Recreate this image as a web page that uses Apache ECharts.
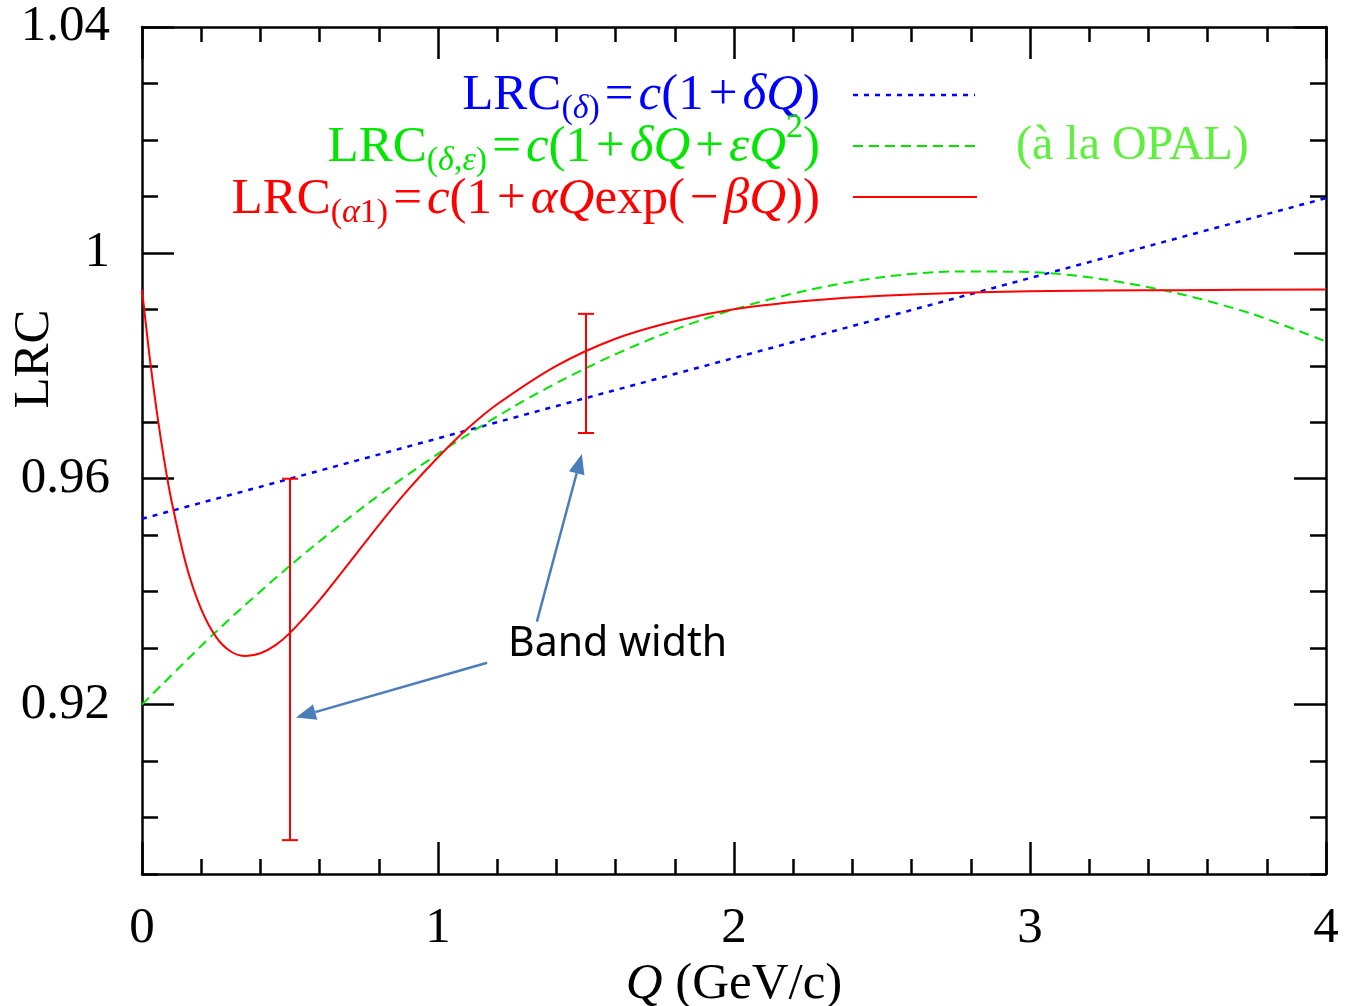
<!DOCTYPE html>
<html><head><meta charset="utf-8">
<script src="https://cdn.jsdelivr.net/npm/echarts@6/dist/echarts.min.js"></script>
<style>html,body{margin:0;padding:0;background:#fff}#c{width:1345px;height:1006px}</style>
</head><body><div id="c"></div>
<script>
// ---------- data ----------
const xMajorTicks = [0, 1, 2, 3, 4];
const yMajorTicks = [0.92, 0.96, 1.00, 1.04];

const blueQ   = [0, 0.5, 1.5, 4];
const blueLRC = [0.9529, 0.9600, 0.9743, 1.0097];

const greenQ   = [0, 0.25, 0.5, 0.75, 1.0, 1.25, 1.5, 1.75, 2.0, 2.25, 2.5, 2.75, 3.0, 3.25, 3.5, 3.75, 4.0];
const greenLRC = [0.9200, 0.9329, 0.9446, 0.9551, 0.9644, 0.9726, 0.9796, 0.9854, 0.9900, 0.9934, 0.9957, 0.9967, 0.9966, 0.9953, 0.9928, 0.9892, 0.9843];

const redQ   = [0, 0.025, 0.05, 0.075, 0.1, 0.15, 0.2, 0.25, 0.3, 0.35, 0.4, 0.45, 0.5, 0.6, 0.7, 0.8, 0.9, 1.0, 1.1, 1.2, 1.4, 1.6, 1.8, 2.0, 2.25, 2.5, 3.0, 3.5, 4.0];
const redLRC = [0.9935, 0.9819, 0.9719, 0.9633, 0.9560, 0.9446, 0.9369, 0.9320, 0.9294, 0.9286, 0.9291, 0.9305, 0.9327, 0.9385, 0.9451, 0.9518, 0.9581, 0.9638, 0.9689, 0.9732, 0.9800, 0.9848, 0.9879, 0.9900, 0.9915, 0.9924, 0.9932, 0.9934, 0.9935];

const errQ    = [0.5, 1.5];
const errLow  = [0.8960, 0.9681];
const errHigh = [0.9600, 0.9892];

// annotation arrows (data units): from -> to
const arrowFromQ = [1.334, 1.166];
const arrowFromY = [0.9347, 0.9274];
const arrowToQ   = [1.486, 0.520];
const arrowToY   = [0.9644, 0.9177];

// ---------- styles ----------
const SERIF = 'Liberation Serif';
const FS = 51;
const BLUE = '#0000ff', GREEN = '#00e600', RED = '#ff0000', ARROW = '#4a7ebb', OPAL = '#5fef3e';

function makeRich(col) {
  const base = {fontFamily: SERIF, fill: col, color: col};
  return {
    n:  Object.assign({}, base, {fontSize: FS, lineHeight: 62}),
    o:  Object.assign({}, base, {fontSize: FS, lineHeight: 62, padding: [0, 5, 0, 5]}),
    i:  Object.assign({}, base, {fontSize: FS, fontStyle: 'italic', lineHeight: 62}),
    s:  Object.assign({}, base, {fontSize: 34, lineHeight: 32, padding: [27, 0, 0, 0]}),
    si: Object.assign({}, base, {fontSize: 34, fontStyle: 'italic', lineHeight: 32, padding: [27, 0, 0, 0]}),
    p:  Object.assign({}, base, {fontSize: 34, lineHeight: 20, padding: [0, 0, 40, 0]})
  };
}

const tickStyle = {color: '#000', width: 2.5};
const isMultiple = (v, step) => Math.abs(v / step - Math.round(v / step)) < 1e-6;

function xTicks(pos, major, showLabel) {
  return {
    type: 'value', min: 0, max: 4, position: pos, gridIndex: 0,
    interval: major ? 1 : 0.2,
    axisLine: {show: !major, onZero: false, lineStyle: {color: '#000', width: 2.5}},
    axisTick: {show: true, inside: true, length: major ? 32 : 15, lineStyle: tickStyle},
    axisLabel: {show: showLabel, margin: 29, fontFamily: SERIF, fontSize: FS, color: '#000',
      formatter: v => (xMajorTicks.some(t => Math.abs(t - v) < 1e-6) ? String(Math.round(v)) : '')},
    splitLine: {show: false}
  };
}
function yTicks(pos, major, showLabel) {
  const a = {
    type: 'value', min: 0.89, max: 1.04, position: pos, gridIndex: 0,
    axisLine: {show: !major, onZero: false, lineStyle: {color: '#000', width: 2.5}},
    axisTick: {show: true, inside: true, length: major ? 32 : 16, lineStyle: tickStyle},
    axisLabel: {show: showLabel, margin: 32, fontFamily: SERIF, fontSize: FS, color: '#000',
      formatter: v => {
        if (!yMajorTicks.some(t => Math.abs(t - v) < 1e-6)) return '';
        return Math.abs(v - 1) < 1e-6 ? '1' : v.toFixed(2);
      }},
    splitLine: {show: false}
  };
  if (major) a.axisTick.customValues = yMajorTicks; else a.interval = 0.01;
  return a;
}

const chart = echarts.init(document.getElementById('c'), null, {renderer: 'canvas'});
const option = {
  animation: false,
  backgroundColor: '#fff',
  grid: {left: 142, right: 19, top: 27, bottom: 132, containLabel: false, outerBoundsMode: 'none'},
  xAxis: [
    Object.assign(xTicks('bottom', false, true), {
      name: '{i|Q} (GeV/c)', nameLocation: 'middle', nameGap: 78,
      nameTextStyle: {fontFamily: SERIF, fontSize: FS, color: '#000', lineHeight: 50,
        rich: {i: {fontFamily: SERIF, fontSize: FS, fontStyle: 'italic', color: '#000', lineHeight: 50}}}
    }),
    xTicks('bottom', true, false),
    xTicks('top', false, false),
    xTicks('top', true, false)
  ],
  yAxis: [
    yTicks('left', false, true),
    yTicks('left', true, false),
    yTicks('right', false, false),
    yTicks('right', true, false)
  ],
  series: [
    {name: 'delta', type: 'line', xAxisIndex: 0, yAxisIndex: 0, showSymbol: false, symbol: 'none',
     data: blueQ.map((q, k) => [q, blueLRC[k]]),
     lineStyle: {color: BLUE, width: 2.5, type: [5, 6]}, z: 3},
    {name: 'delta-eps', type: 'line', xAxisIndex: 0, yAxisIndex: 0, showSymbol: false, symbol: 'none', smooth: 0.3,
     data: greenQ.map((q, k) => [q, greenLRC[k]]),
     lineStyle: {color: GREEN, width: 2, type: [10, 6]}, z: 3},
    {name: 'alpha1', type: 'line', xAxisIndex: 0, yAxisIndex: 0, showSymbol: false, symbol: 'none', smooth: 0.3,
     data: redQ.map((q, k) => [q, redLRC[k]]),
     lineStyle: {color: RED, width: 2}, z: 4},
    {name: 'band', type: 'custom', xAxisIndex: 0, yAxisIndex: 0, z: 5,
     data: errQ.map((q, k) => [q, errLow[k], errHigh[k]]),
     encode: {x: 0, y: [1, 2]},
     renderItem: function (params, api) {
       const lo = api.coord([api.value(0), api.value(1)]);
       const hi = api.coord([api.value(0), api.value(2)]);
       const w = 8, st = {stroke: RED, lineWidth: 2};
       return {type: 'group', children: [
         {type: 'line', shape: {x1: lo[0], y1: lo[1], x2: hi[0], y2: hi[1]}, style: st},
         {type: 'line', shape: {x1: lo[0] - w, y1: lo[1], x2: lo[0] + w, y2: lo[1]}, style: st},
         {type: 'line', shape: {x1: hi[0] - w, y1: hi[1], x2: hi[0] + w, y2: hi[1]}, style: st}
       ]};
     }},
    {name: 'arrows', type: 'custom', xAxisIndex: 0, yAxisIndex: 0, z: 6,
     data: arrowFromQ.map((q, k) => [q, arrowFromY[k], arrowToQ[k], arrowToY[k]]),
     encode: {x: [0, 2], y: [1, 3]},
     renderItem: function (params, api) {
       const a = api.coord([api.value(0), api.value(1)]);
       const b = api.coord([api.value(2), api.value(3)]);
       const dx = b[0] - a[0], dy = b[1] - a[1], L = Math.sqrt(dx * dx + dy * dy);
       const ux = dx / L, uy = dy / L, hl = 20, hw = 8;
       const bx = b[0] - ux * hl, by = b[1] - uy * hl;
       return {type: 'group', children: [
         {type: 'line', shape: {x1: a[0], y1: a[1], x2: bx, y2: by}, style: {stroke: ARROW, lineWidth: 2.5}},
         {type: 'polygon', shape: {points: [[b[0], b[1]], [bx - uy * hw, by + ux * hw], [bx + uy * hw, by - ux * hw]]},
          style: {fill: ARROW}}
       ]};
     }}
  ],
  graphic: [
    {type: 'text', x: 35, y: 359, rotation: Math.PI / 2,
     style: {text: 'LRC', fontFamily: SERIF, fontSize: FS, fill: '#000', align: 'center', verticalAlign: 'middle'}},
    {type: 'text', x: 820, y: 96,
     style: {text: '{n|LRC}{s|(}{si|δ}{s|)}{o|=}{i|c}{n|(1}{o|+}{i|δQ}{n|)}', rich: makeRich(BLUE), fill: BLUE,
       align: 'right', verticalAlign: 'middle'}},
    {type: 'text', x: 820, y: 148,
     style: {text: '{n|LRC}{s|(}{si|δ}{s|,}{si|ε}{s|)}{o|=}{i|c}{n|(1}{o|+}{i|δQ}{o|+}{i|εQ}{p|2}{n|)}', rich: makeRich(GREEN), fill: GREEN,
       align: 'right', verticalAlign: 'middle'}},
    {type: 'text', x: 820, y: 200,
     style: {text: '{n|LRC}{s|(}{si|α}{s|1)}{o|=}{i|c}{n|(1}{o|+}{i|αQ}{n|exp(}{o|−}{i|βQ}{n|))}', rich: makeRich(RED), fill: RED,
       align: 'right', verticalAlign: 'middle'}},
    {type: 'line', shape: {x1: 853, y1: 95, x2: 975, y2: 95}, style: {stroke: BLUE, lineWidth: 2.5, lineDash: [5, 6]}},
    {type: 'line', shape: {x1: 853, y1: 146, x2: 977, y2: 146}, style: {stroke: GREEN, lineWidth: 2, lineDash: [10, 6]}},
    {type: 'line', shape: {x1: 853, y1: 197, x2: 977, y2: 197}, style: {stroke: RED, lineWidth: 2}},
    {type: 'text', x: 1016, y: 146,
     style: {text: '(à la OPAL)', fontFamily: SERIF, fontSize: 48, fill: OPAL, align: 'left', verticalAlign: 'middle'}},
    {type: 'text', x: 508, y: 644,
     style: {text: 'Band width', fontFamily: 'Noto Sans', fontSize: 41, fill: '#000', align: 'left', verticalAlign: 'middle'}}
  ]
};
chart.setOption(option);
</script>
</body></html>
